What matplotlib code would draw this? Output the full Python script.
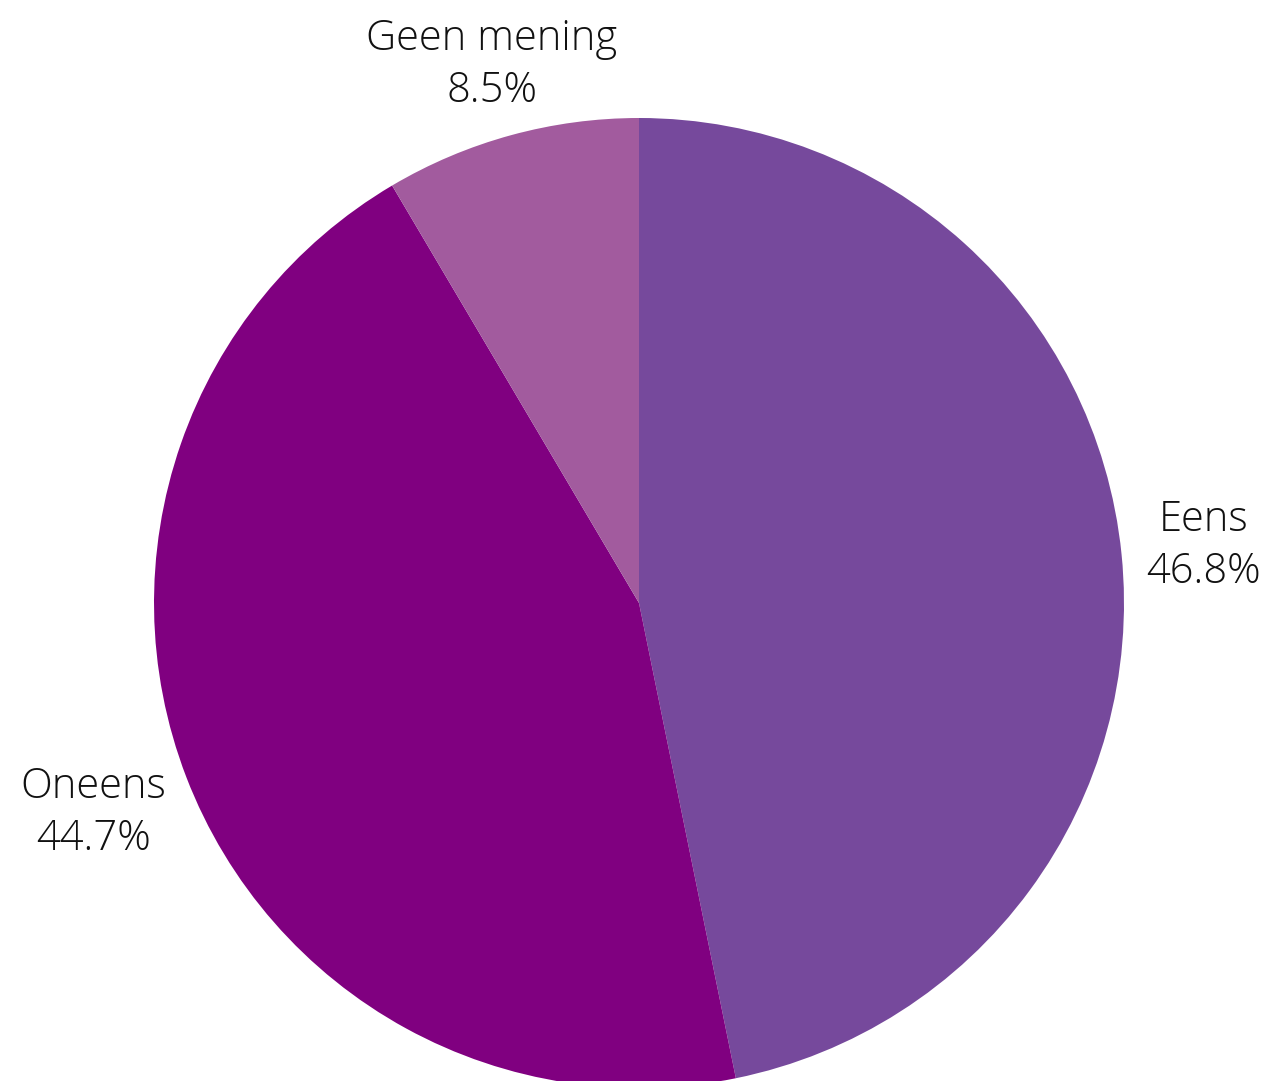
import matplotlib
matplotlib.use("Agg")
import matplotlib.pyplot as plt
import numpy as np

categories = ["Eens", "Oneens", "Geen mening"]
values = [46.8, 44.7, 8.5]
colors = ["#76499C", "#800080", "#A25B9E"]

plt.rcParams['font.family'] = ['Open Sans', 'DejaVu Sans']

fig = plt.figure(figsize=(12.68, 10.81), dpi=100)
ax = fig.add_axes([0, 0, 1, 1])
labels = [f"{c}\n{v:.1f}%" for c, v in zip(categories, values)]
wedges, texts = ax.pie(values, labels=labels, colors=colors, startangle=90,
                       counterclock=False, labeldistance=1.17,
                       wedgeprops=dict(linewidth=0),
                       textprops=dict(fontsize=30, fontweight='light', color='#111111'))
label_dist = [1.17, 1.205, 1.15]
for w, t, d in zip(wedges, texts, label_dist):
    ang = np.deg2rad((w.theta1 + w.theta2) / 2)
    t.set_position((d * np.cos(ang), d * np.sin(ang)))
    t.set_ha('center')
    t.set_va('center')
    t.set_multialignment('center')
    t.set_linespacing(1.3)

cx, cy, r = 639, 603, 485
W, H = 1268, 1081
ax.set_aspect('auto')
ax.set_xlim(-cx / r, (W - cx) / r)
ax.set_ylim(-(H - cy) / r, cy / r)
ax.axis('off')
fig.savefig("out.png", dpi=100)
